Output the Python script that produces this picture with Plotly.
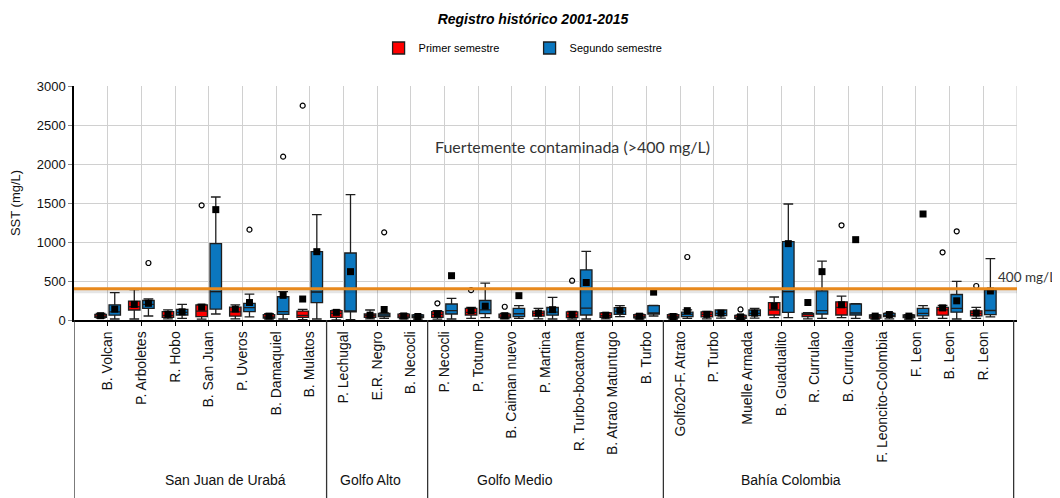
import plotly.graph_objects as go

# ---------------- data ----------------
sites = ["B. Volcan", "P. Arboletes", "R. Hobo", "B. San Juan", "P. Uveros", "B. Damaquiel",
         "B. Mulatos", "P. Lechugal", "E.R. Negro", "B. Necocli", "P. Necocli", "P. Totumo",
         "B. Caiman nuevo", "P. Martina", "R. Turbo-bocatoma", "B. Atrato Matuntugo", "B. Turbo",
         "Golfo20-F. Atrato", "P. Turbo", "Muelle Armada", "B. Guadualito", "R. Currulao",
         "B. Currulao", "F. Leoncito-Colombia", "F. Leon", "B. Leon", "R. Leon"]
group_names = ["San Juan de Urabá", "Golfo Alto", "Golfo Medio", "Bahía Colombia"]
group_sizes = [7, 3, 7, 10]

# Primer semestre
s1_q1 = [35, 128, 34, 43, 50, 25, 34, 34, 34, 30, 34, 64, 30, 50, 30, 34, 28, 28, 40, 20, 64, 43, 64, 25, 30, 62, 52]
s1_med = [50, 170, 60, 115, 105, 40, 60, 85, 55, 50, 73, 98, 50, 85, 65, 55, 45, 45, 73, 35, 128, 70, 162, 45, 45, 130, 85]
s1_q3 = [72, 243, 107, 192, 165, 70, 115, 120, 77, 75, 107, 150, 75, 113, 105, 92, 70, 70, 105, 60, 222, 85, 233, 64, 64, 162, 117]
s1_lo = [25, 13, 15, 10, 15, 10, 5, 0, 15, 15, 10, 20, 15, 15, 10, 15, 10, 10, 15, 8, 30, 15, 30, 10, 10, 20, 20]
s1_hi = [85, 390, 130, 200, 195, 80, 137, 125, 128, 80, 120, 160, 85, 150, 110, 95, 75, 75, 110, 65, 295, 94, 305, 70, 70, 186, 162]
s1_mean = [55, 200, 73, 165, 140, 50, 269, 98, 62, 52, 77, 122, 55, 88, 70, 62, 49, 45, 72, 40, 178, 224, 195, 50, 50, 155, 90]
s1_out_site = [3, 6, 10, 11, 12, 14, 19, 22, 25, 26]
s1_out_val = [1470, 2748, 214, 383, 170, 504, 135, 1214, 868, 436]

# Segundo semestre
s2_q1 = [62, 150, 64, 140, 107, 72, 222, 103, 43, 30, 77, 83, 43, 62, 64, 72, 75, 43, 56, 56, 98, 77, 64, 43, 52, 100, 70]
s2_med = [105, 200, 98, 363, 158, 107, 359, 110, 64, 45, 120, 130, 80, 100, 152, 115, 90, 72, 85, 85, 365, 120, 90, 60, 85, 150, 122]
s2_q3 = [195, 250, 137, 979, 214, 298, 876, 859, 85, 66, 205, 250, 148, 160, 643, 158, 184, 100, 128, 128, 1004, 374, 205, 85, 150, 327, 387]
s2_lo = [13, 51, 21, 77, 40, 13, 13, 5, 20, 10, 13, 30, 21, 13, 13, 43, 51, 20, 25, 25, 30, 20, 20, 15, 20, 13, 40]
s2_hi = [350, 270, 200, 1577, 333, 363, 1350, 1607, 90, 70, 276, 472, 184, 291, 880, 184, 186, 130, 130, 150, 1487, 756, 210, 90, 184, 495, 786]
s2_mean = [139, 214, 105, 1415, 224, 316, 876, 620, 135, 45, 568, 178, 312, 132, 481, 124, 357, 120, 88, 88, 979, 620, 1030, 70, 1359, 246, 372]
s2_out_site = [1, 4, 5, 8, 14, 16, 17, 25, 26]
s2_out_val = [731, 1158, 2094, 1124, 3068, 3080, 808, 1137, 3004]

threshold = 400
y_ticks = [0, 500, 1000, 1500, 2000, 2500, 3000]

# ---------------- style ----------------
RED = "#FF0000"
BLUE = "#0B77BF"
EDGE = "#1E1E1E"
OFFSET = 0.21
BOX_W = 0.34
FONT = "Liberation Sans, Arial, sans-serif"
CAL = "Lato, Carlito, Calibri, sans-serif"
LABEL_SHIFT = [0.5, -0.2, -0.9, -1.2]
W, H = 1052, 490          # page body adds an 8px margin
M_L, M_R, M_T, M_B = 66, 43, 78, 178

idx = list(range(len(sites)))
fig = go.Figure()

series = [
    ("Primer semestre", RED, -OFFSET, s1_q1, s1_med, s1_q3, s1_lo, s1_hi, s1_mean, s1_out_site, s1_out_val),
    ("Segundo semestre", BLUE, OFFSET, s2_q1, s2_med, s2_q3, s2_lo, s2_hi, s2_mean, s2_out_site, s2_out_val),
]

for name, col, off, q1, med, q3, lo, hi, mean, osite, oval in series:
    xs = [i + off for i in idx]
    fig.add_trace(go.Box(
        name=name, x=xs, q1=q1, median=med, q3=q3, lowerfence=lo, upperfence=hi,
        width=BOX_W, whiskerwidth=0.85, fillcolor=col, boxpoints=False,
        line=dict(color=EDGE, width=1.3), showlegend=True, hoverinfo="skip"))

for name, col, off, q1, med, q3, lo, hi, mean, osite, oval in series:
    xs = [i + off for i in idx]
    fig.add_trace(go.Scatter(
        x=xs, y=mean, mode="markers", showlegend=False, hoverinfo="skip", cliponaxis=False,
        marker=dict(symbol="square", size=7, color="black")))
    fig.add_trace(go.Scatter(
        x=[s + off for s in osite], y=oval, mode="markers", showlegend=False, hoverinfo="skip",
        cliponaxis=False,
        marker=dict(symbol="circle-open", size=5, color="black", line=dict(width=1.2))))

# threshold line (with soft shadow)
fig.add_shape(type="line", xref="x", yref="y", x0=-1, x1=27, y0=threshold - 25, y1=threshold - 25,
              line=dict(color="rgba(0,0,0,0.10)", width=5), layer="above")
fig.add_shape(type="line", xref="x", yref="y", x0=-1, x1=27, y0=threshold, y1=threshold,
              line=dict(color="#E8891C", width=3), layer="above")

# right border
fig.add_shape(type="line", xref="x", yref="paper", x0=27, x1=27, y0=0, y1=1,
              line=dict(color="#C8C8C8", width=1), layer="below")

# group separators and labels
PLOT_H = H - M_T - M_B
bottom = -M_B / PLOT_H
start = 0
sep_x = [-1]
for gname, gsize, shift in zip(group_names, group_sizes, LABEL_SHIFT):
    center = start + (gsize - 1) / 2 + shift
    fig.add_annotation(x=center, y=bottom + 18 / PLOT_H, xref="x", yref="paper", text=gname,
                       showarrow=False, font=dict(family=FONT, size=14, color="#111111"),
                       xanchor="center", yanchor="middle")
    start += gsize
    sep_x.append(start - 0.5)
sep_x[-1] = len(sites) - 0.1
for sx in sep_x:
    fig.add_shape(type="line", xref="x", yref="paper", x0=sx, x1=sx, y0=0, y1=bottom,
                  line=dict(color="#333333", width=1.3))

fig.add_annotation(x=13.8, y=2222, xref="x", yref="y", text="Fuertemente contaminada (>400 mg/L)",
                   showarrow=False, font=dict(family=CAL, size=16, color="#333333"))
fig.add_annotation(x=26.38, y=556, xref="x", yref="y", text="400 mg/L", xanchor="left",
                   showarrow=False, font=dict(family=CAL, size=13.5, color="#333333"))

fig.update_layout(
    width=W, height=H,
    margin=dict(l=M_L, r=M_R, t=M_T, b=M_B, autoexpand=False),
    paper_bgcolor="white", plot_bgcolor="white",
    title=dict(text="<b><i>Registro histórico 2001-2015</i></b>", x=525 / W, y=1 - 11 / H,
               xanchor="center", yanchor="middle", font=dict(family=FONT, size=14, color="black")),
    legend=dict(orientation="h", x=0.323, xanchor="left", y=1 + 38 / PLOT_H, yanchor="middle",
                font=dict(family=FONT, size=11, color="black"), entrywidth=106, entrywidthmode="pixels"),
    boxmode="overlay",
    xaxis=dict(range=[-1, 27], tickmode="array", tickvals=idx, ticktext=sites, tickangle=-90,
               showgrid=True, gridcolor="#D0D0D0", gridwidth=1, zeroline=False, automargin=False,
               showline=True, linecolor="black", linewidth=1.5,
               ticks="outside", ticklen=4, tickcolor="black",
               tickfont=dict(family=FONT, size=14, color="#111111")),
    yaxis=dict(range=[0, 3000], tickvals=y_ticks, showgrid=True, gridcolor="#D0D0D0", gridwidth=1,
               zeroline=False, showline=True, linecolor="black", linewidth=1.5, automargin=False,
               ticks="outside", ticklen=4, tickcolor="#888888",
               tickfont=dict(family=FONT, size=13, color="#111111"),
               title=dict(text="SST (mg/L)", font=dict(family=FONT, size=13, color="#111111"), standoff=13)),
)

fig.write_html("out.html")
